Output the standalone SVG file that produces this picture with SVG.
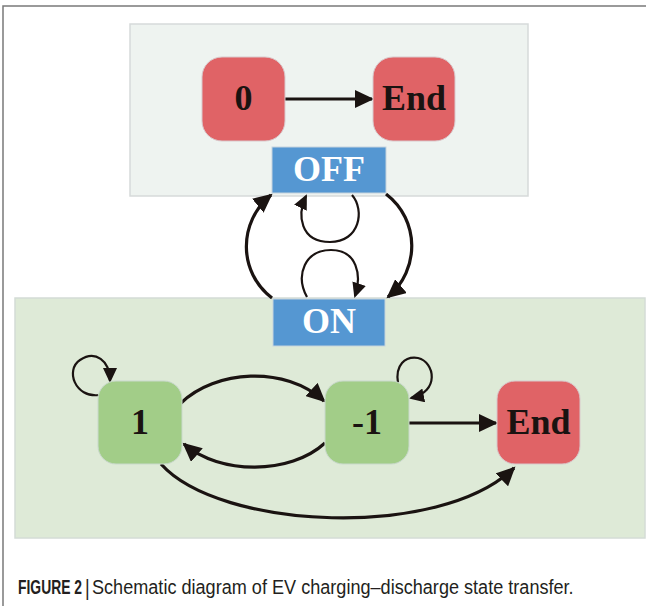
<svg xmlns="http://www.w3.org/2000/svg" width="646" height="606" viewBox="0 0 646 606">
<style>
.frame{stroke:#7a7a7a;stroke-width:1.5;fill:none}
.panelTop{fill:#eef3f0;stroke:#d6dada;stroke-width:1.5}
.panelBot{fill:#deead7;stroke:#d4dcd6;stroke-width:1.5}
.red{fill:#e06366;stroke:#d9c9cc;stroke-width:1}
.green{fill:#a2cd88;stroke:#c9d9cc;stroke-width:1}
.blue{fill:#5597d2;stroke:#c5d3dd;stroke-width:1}
.lbl{font-family:"Liberation Serif","Times New Roman",serif;font-weight:bold;font-size:36px;text-anchor:middle;fill:#1a1311}
.wlbl{font-family:"Liberation Serif","Times New Roman",serif;font-weight:bold;font-size:36px;text-anchor:middle;fill:#ffffff}
.thick{fill:none;stroke:#1a1311;stroke-width:3.2}
.thin{fill:none;stroke:#1a1311;stroke-width:2.2}
.cap{font-family:"Liberation Sans",Arial,sans-serif;fill:#231f20}
</style>
<defs>
<marker id="ah" markerUnits="userSpaceOnUse" markerWidth="20" markerHeight="18" refX="17" refY="9" orient="auto">
<path d="M0,0 L19,9 L0,18 z" fill="#1a1311"/>
</marker>
<marker id="ahs" markerUnits="userSpaceOnUse" markerWidth="16" markerHeight="14" refX="13" refY="7" orient="auto">
<path d="M0,0 L15,7 L0,14 z" fill="#1a1311"/>
</marker>
</defs>
<rect x="0" y="0" width="646" height="606" fill="#ffffff"/>
<path class="frame" d="M3,606 L3,6 L646,6"/>
<g id="panel-off"><rect class="panelTop" x="130" y="24" width="398" height="172"/></g>
<g id="panel-on"><rect class="panelBot" x="15" y="298" width="630" height="240"/></g>
<g id="connectors">
<path class="thick" d="M285,99 L372,99" marker-end="url(#ah)"/>
<path class="thick" d="M386,194 C420,220 420,270 388,297" marker-end="url(#ah)"/>
<path class="thick" d="M272,298 C238,272 238,222 271,195" marker-end="url(#ah)"/>
<path class="thin" d="M352,195 C365,210 360,242 330,242 C300,242 297,215 306,196" marker-end="url(#ahs)"/>
<path class="thin" d="M307,297 C295,275 305,250 331,250 C357,250 362,275 355,296" marker-end="url(#ahs)"/>
<path class="thick" d="M181,403 C215,370 285,365 324,401" marker-end="url(#ah)"/>
<path class="thick" d="M325,443 C290,475 220,475 184,444" marker-end="url(#ah)"/>
<path class="thick" d="M409,423 L496,423" marker-end="url(#ah)"/>
<path class="thick" d="M161,464 C220,530 440,540 514,468" marker-end="url(#ah)"/>
<path class="thin" d="M99,395 C75,398 65,370 80,360 C95,350 110,360 110,381" marker-end="url(#ahs)"/>
<path class="thin" d="M398,383 C395,365 405,356 418,358 C435,362 440,392 411,398" marker-end="url(#ahs)"/>
</g>
<g id="node-0"><rect class="red" x="202" y="57" width="83" height="84" rx="20"/><text class="lbl" x="243.5" y="110">0</text></g>
<g id="node-end-top"><rect class="red" x="373" y="57" width="82" height="84" rx="20"/><text class="lbl" x="414" y="110">End</text></g>
<g id="node-off"><rect class="blue" x="272" y="147" width="114" height="46"/><text class="wlbl" x="329" y="181">OFF</text></g>
<g id="node-on"><rect class="blue" x="273" y="299" width="112" height="47"/><text class="wlbl" x="329" y="333">ON</text></g>
<g id="node-1"><rect class="green" x="98" y="381" width="84" height="83" rx="18"/><text class="lbl" x="140" y="434">1</text></g>
<g id="node-neg1"><rect class="green" x="325" y="381" width="84" height="83" rx="18"/><text class="lbl" x="367" y="434">-1</text></g>
<g id="node-end-bot"><rect class="red" x="497" y="381" width="83" height="83" rx="18"/><text class="lbl" x="538.5" y="434">End</text></g>
<g id="caption">
<text class="cap" transform="translate(18,594) scale(1,1.5)" font-size="13.9" font-weight="bold">FIGURE 2</text>
<text class="cap" transform="translate(85,595) scale(1,1.25)" font-size="18">|</text>
<text class="cap" transform="translate(92,594) scale(1,1.1)" font-size="18.1">Schematic diagram of EV charging–discharge state transfer.</text>
</g>
</svg>
